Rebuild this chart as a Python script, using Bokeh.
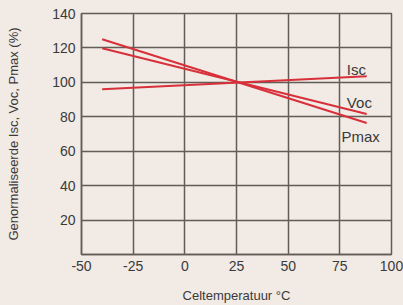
from bokeh.plotting import figure
from bokeh.embed import file_html
from bokeh.resources import INLINE
from bokeh.models import FixedTicker, Range1d, Label
from bokeh.core.templates import get_env

# Data
temps = [-40, 88]
isc = [96.0, 103.6]
voc = [119.8, 81.6]
pmax = [125.0, 76.4]
x_ticks = [-50, -25, 0, 25, 50, 75, 100]
x_tick_labels = ["-50", "-25", "0", "25", "50", "75", "100"]
y_ticks = [20, 40, 60, 80, 100, 120, 140]
series_labels = ["Isc", "Voc", "Pmax"]
label_pos = [(78.4, 107.6), (78.4, 88.5), (75.8, 68.8)]

BG = "#F1EAE5"
GRID = "#625C57"
RED = "#D8303A"
TXT = "#3A3A3A"

p = figure(width=403, height=305, output_backend="svg", toolbar_location=None,
           x_range=Range1d(-50, 100), y_range=Range1d(0, 140),
           min_border_left=81, min_border_right=12, min_border_top=13, min_border_bottom=50)
p.background_fill_color = BG
p.border_fill_color = BG
p.outline_line_color = GRID
p.outline_line_width = 1.5

p.xaxis.ticker = FixedTicker(ticks=x_ticks)
p.yaxis.ticker = FixedTicker(ticks=y_ticks)
p.xaxis.major_label_overrides = dict(zip(x_ticks, x_tick_labels))
for ax in (p.xaxis, p.yaxis):
    ax.axis_line_color = GRID
    ax.axis_line_width = 1.5
    ax.major_tick_line_color = None
    ax.major_tick_out = 0
    ax.major_tick_in = 0
    ax.minor_tick_line_color = None
    ax.minor_tick_out = 0
    ax.major_label_text_font = "Liberation Sans"
    ax.major_label_text_font_size = "14px"
    ax.major_label_text_color = TXT
    ax.axis_label_text_font = "Liberation Sans"
    ax.axis_label_text_font_size = "13px"
    ax.axis_label_text_font_style = "normal"
    ax.axis_label_text_color = TXT
p.xaxis.major_label_standoff = 6
p.yaxis.major_label_standoff = 6
p.xaxis.axis_label = "Celtemperatuur °C"
p.yaxis.axis_label = "Genormaliseerde Isc, Voc, Pmax (%)"
p.xaxis.axis_label_standoff = 14
p.yaxis.axis_label_standoff = 28

p.xgrid.ticker = FixedTicker(ticks=x_ticks)
p.ygrid.ticker = FixedTicker(ticks=y_ticks)
for g in (p.xgrid, p.ygrid):
    g.grid_line_color = GRID
    g.grid_line_width = 1.5

for ys in (isc, voc, pmax):
    p.line(temps, ys, line_color=RED, line_width=2)

for name, (lx, ly) in zip(series_labels, label_pos):
    p.add_layout(Label(x=lx, y=ly, text=name, text_font="Liberation Sans",
                       text_font_size="15px", text_color=TXT,
                       text_baseline="alphabetic"))

tmpl = get_env().from_string(
    '{% extends "file.html" %}{% block preamble %}{{ super() }}'
    '<style>html,body{background:' + BG + ';}</style>{% endblock %}')

open("out.html", "w").write(file_html(p, INLINE, template=tmpl))
